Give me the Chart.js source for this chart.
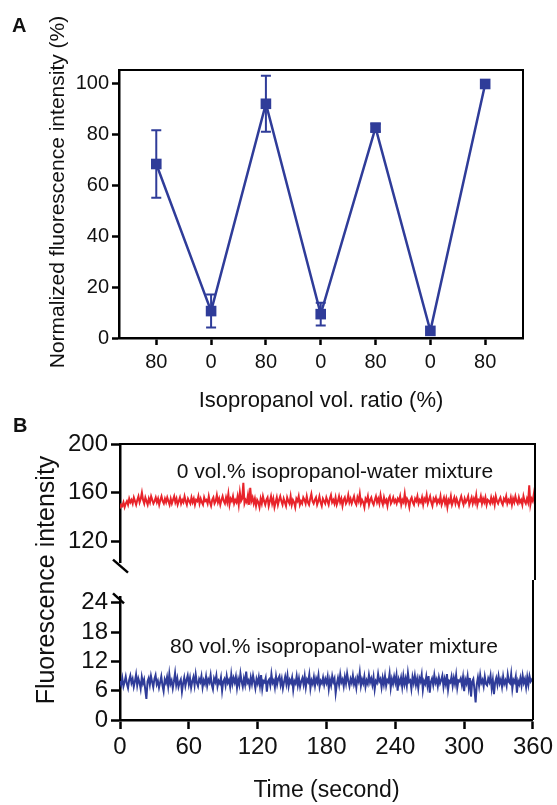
<!DOCTYPE html>
<html>
<head>
<meta charset="utf-8">
<script src="https://cdn.jsdelivr.net/npm/chart.js@4.4.1/dist/chart.umd.min.js"></script>
<style>
  body { margin: 0; background: #fff; }
  #wrap { position: relative; width: 557px; height: 805px; overflow: hidden; font-family: 'Liberation Sans', Arial, sans-serif; color: #111; }
  canvas { position: absolute; left: 0; }
  .panel { position: absolute; font-weight: bold; font-size: 20px; line-height: 20px; }
  .ytitle { position: absolute; white-space: nowrap; transform: translate(-50%, -50%) rotate(-90deg); }
</style>
</head>
<body>
<div id="wrap">
  <canvas id="chartA" width="557" height="425" style="top:0"></canvas>
  <canvas id="chartB1" width="557" height="155" style="top:425px"></canvas>
  <canvas id="chartB2" width="557" height="225" style="top:580px"></canvas>
  <div class="panel" style="left:12px;top:15px">A</div>
  <div class="panel" style="left:13px;top:415px">B</div>
  <div class="ytitle" style="left:57px;top:192px;font-size:21px">Normalized fluorescence intensity (%)</div>
  <div class="ytitle" style="left:45px;top:580px;font-size:25px">Fluorescence intensity</div>
</div>
<script>
// ─── Panel A data ───────────────────────────────────────────────
const ratioLabels   = ['80', '0', '80', '0', '80', '0', '80'];
const intensity     = [68.5, 10.6, 92.2, 9.4, 82.8, 2.8, 100];
const intensityErr  = [13.3, 6.5, 11.0, 4.5, 1.5, 0, 0];
const ticksA        = [0, 20, 40, 60, 80, 100];

// ─── Panel B data (one reading per second, 0–360 s) ─────────────
const sampleStep = 1;
const timeTicks  = [0, 60, 120, 180, 240, 300, 360];
const ticksUpper = [120, 160, 200];
const ticksLower = [0, 6, 12, 18, 24];

// 0 vol.% isopropanol (20 readings per row)
const red = [
  147,150,149,152,148,151,153,150,155,152,154,151,156,153,150,154,157,152,155,160,
  154,151,156,153,150,155,152,157,154,151,153,156,152,155,150,154,157,153,151,155,
  152,156,153,150,155,151,154,157,152,155,150,153,156,151,154,152,157,153,150,155,
  153,151,156,152,155,150,154,153,157,151,155,152,150,156,153,154,151,157,152,149,
  154,156,151,153,158,152,155,150,154,157,153,151,156,152,159,150,155,153,157,151,
  154,152,157,150,160,153,155,168,151,154,152,158,150,164,153,156,151,155,149,154,
  152,148,155,151,157,153,150,154,156,149,153,157,151,155,148,152,156,150,154,157,
  153,150,155,152,149,156,153,151,157,150,154,152,148,155,153,157,150,153,151,156,
  154,151,157,152,150,155,159,153,151,154,156,150,153,157,152,149,155,153,151,156,
  153,150,155,158,152,154,151,156,150,153,157,152,155,149,154,156,151,153,158,152,
  155,151,154,157,152,150,156,153,159,151,154,152,148,155,153,157,150,154,156,152,
  150,154,157,152,155,151,158,153,150,156,152,154,149,155,157,151,153,156,152,154,
  151,155,153,157,150,154,152,159,151,155,153,148,154,156,152,150,155,153,157,151,
  154,152,156,150,155,153,158,151,154,157,152,149,155,153,156,151,154,152,157,150,
  153,156,151,155,148,154,152,157,150,153,156,151,155,152,149,154,157,153,150,155,
  152,154,157,150,153,156,151,155,152,158,150,154,153,157,151,155,152,156,150,154,
  153,151,156,152,155,150,157,153,151,154,156,152,150,155,153,157,151,154,152,156,
  150,155,152,157,153,151,156,152,154,150,157,153,151,155,152,166,150,155,153,159,
  152
];

// 80 vol.% isopropanol (20 readings per row)
const blue = [
  8.0,7.2,8.6,6.9,7.8,8.9,7.4,6.5,8.2,9.1,7.6,8.4,6.8,7.9,9.3,7.1,8.5,7.7,6.4,8.8,
  7.5,8.3,6.2,4.3,7.9,8.6,7.2,9.0,7.8,6.7,8.4,9.2,7.3,8.0,6.6,7.7,8.9,7.1,5.9,8.3,
  7.6,8.8,6.9,9.4,7.4,8.1,6.5,7.9,9.6,7.2,8.5,6.8,7.7,8.3,5.8,7.5,8.7,7.0,8.2,9.1,
  7.3,8.6,6.6,7.9,8.8,7.1,9.3,7.6,6.9,8.4,7.8,9.0,6.7,8.1,7.4,8.9,7.0,8.3,7.7,9.2,
  7.2,6.3,8.5,7.8,9.1,6.9,8.0,7.5,8.7,6.0,7.9,8.4,7.1,9.0,7.6,8.2,6.8,9.3,7.4,8.6,
  7.7,8.9,6.6,8.3,7.2,9.5,7.9,6.8,8.5,7.3,9.9,7.6,8.1,6.9,8.7,7.4,9.1,7.8,6.5,8.4,
  7.5,8.8,7.0,9.2,6.4,8.0,7.7,8.6,5.8,7.9,8.3,7.1,9.4,7.6,8.1,6.7,8.9,7.3,8.5,9.0,
  7.2,8.4,6.5,7.8,8.9,7.4,9.1,6.9,8.2,7.6,8.7,6.2,8.0,7.5,9.0,7.1,8.5,6.8,7.9,8.6,
  7.3,9.0,6.7,8.3,7.8,9.3,6.5,8.1,7.4,8.8,7.0,8.5,7.7,9.2,6.8,8.0,7.5,8.7,7.2,8.4,
  7.6,8.9,6.4,8.2,7.1,9.0,7.8,8.5,5.5,7.4,8.6,7.2,9.3,7.7,8.3,6.9,8.8,7.5,9.5,8.0,
  6.9,8.4,7.6,9.1,7.3,8.2,6.6,8.7,7.9,9.7,7.0,8.3,7.5,8.9,6.8,8.1,7.4,9.2,7.7,8.5,
  7.2,8.8,6.3,8.0,7.6,9.4,7.9,8.4,6.7,8.6,7.3,9.0,7.0,8.2,7.8,9.5,6.6,8.4,7.4,8.9,
  7.7,9.2,6.0,8.3,7.5,8.7,6.8,9.0,7.3,8.5,7.0,9.6,7.8,8.1,6.4,8.8,7.6,9.1,7.2,8.4,
  6.5,8.6,7.9,9.3,6.2,8.0,7.4,8.9,7.1,9.0,5.6,7.8,8.5,7.2,9.2,7.6,8.3,6.9,8.7,7.5,
  8.2,9.1,6.8,8.4,7.3,9.4,6.3,8.0,7.7,8.9,7.0,8.6,7.4,9.2,6.6,8.1,7.9,8.5,7.2,8.8,
  5.9,8.3,7.5,9.0,6.7,8.6,4.8,7.9,8.4,6.2,3.6,7.3,8.7,7.0,9.2,7.6,8.2,6.9,8.9,7.4,
  7.1,8.5,7.8,9.1,6.5,8.2,5.3,7.7,8.6,7.2,9.0,7.5,8.3,6.8,8.9,7.4,8.1,7.0,9.3,7.8,
  7.5,9.4,6.4,8.2,7.7,8.9,5.6,8.0,7.3,8.6,7.1,9.1,7.6,8.4,6.7,8.8,7.2,9.0,7.9,8.3,
  7.9
];

const notes = [
  { text: '0 vol.% isopropanol-water mixture',  t: 186.5, v: 172 },
  { text: '80 vol.% isopropanol-water mixture', t: 186.5, v: 13.7 }
];

const BLUE = '#2f3c99';
const RED  = '#e8232a';
const FONT = "'Liberation Sans', Arial, sans-serif";

Chart.defaults.font.family = FONT;
Chart.defaults.color = '#111';

const toXY = (arr) => arr.map((v, i) => ({ x: i * sampleStep, y: v }));

// ─── Helpers ─────────────────────────────────────────────────────
function axisStyle(tickLen, fontSize) {
  return {
    grid: { display: true, drawOnChartArea: false, drawTicks: true, tickLength: tickLen, tickWidth: 2.5, color: '#000', tickColor: '#000' },
    border: { display: true, color: '#000', width: 2.5 },
    ticks: { color: '#111', font: { size: fontSize }, padding: 3, autoSkip: false, maxRotation: 0 }
  };
}

// ─── Panel A ─────────────────────────────────────────────────────
const boxPlugin = {
  id: 'boxA',
  afterDraw(chart) {
    const { ctx, chartArea: a } = chart;
    ctx.save();
    ctx.strokeStyle = '#000';
    ctx.lineWidth = 2;
    ctx.beginPath();
    ctx.moveTo(a.left, a.top);
    ctx.lineTo(a.right, a.top);
    ctx.lineTo(a.right, a.bottom);
    ctx.stroke();
    ctx.restore();
  }
};

const errPlugin = {
  id: 'errBars',
  beforeDatasetsDraw(chart) {
    const { ctx, scales: { x, y } } = chart;
    ctx.save();
    ctx.strokeStyle = BLUE;
    ctx.lineWidth = 2;
    intensity.forEach((v, i) => {
      const e = intensityErr[i];
      if (!e) return;
      const px = x.getPixelForValue(i);
      const hi = y.getPixelForValue(v + e);
      const lo = y.getPixelForValue(v - e);
      ctx.beginPath();
      ctx.moveTo(px, hi); ctx.lineTo(px, lo);
      ctx.moveTo(px - 5, hi); ctx.lineTo(px + 5, hi);
      ctx.moveTo(px - 5, lo); ctx.lineTo(px + 5, lo);
      ctx.stroke();
    });
    ctx.restore();
  }
};

const xA = axisStyle(7, 20);
const yA = axisStyle(7, 20);

new Chart(document.getElementById('chartA'), {
  type: 'line',
  data: {
    datasets: [{
      data: intensity.map((v, i) => ({ x: i, y: v })),
      borderColor: BLUE,
      backgroundColor: BLUE,
      borderWidth: 2.5,
      pointStyle: 'rect',
      pointRadius: 7.5,
      pointBorderWidth: 0,
      tension: 0
    }]
  },
  options: {
    responsive: false,
    animation: false,
    layout: { padding: { left: 0, right: 34, top: 70, bottom: 0 } },
    plugins: { legend: { display: false }, tooltip: { enabled: false } },
    scales: {
      x: {
        type: 'linear', min: -0.68, max: 6.69,
        grid: xA.grid, border: xA.border,
        ticks: { ...xA.ticks, padding: 5, callback: (v) => ratioLabels[v] },
        afterBuildTicks: (s) => { s.ticks = ratioLabels.map((_, i) => ({ value: i })); },
        afterFit: (s) => { s.height = 87; },
        title: { display: true, text: 'Isopropanol vol. ratio (%)', font: { size: 22 }, color: '#111', padding: { top: 0, bottom: 11 } }
      },
      y: {
        min: 0, max: 105.5,
        grid: yA.grid, border: yA.border, ticks: yA.ticks,
        afterBuildTicks: (s) => { s.ticks = ticksA.map(v => ({ value: v })); },
        afterFit: (s) => { s.width = 119; }
      }
    }
  },
  plugins: [errPlugin, boxPlugin]
});

// ─── Panel B (broken y axis: two stacked charts) ─────────────────
function notePlugin(note) {
  return {
    id: 'note',
    afterDatasetsDraw(chart) {
      const { ctx, scales: { x, y } } = chart;
      ctx.save();
      ctx.font = '21px ' + FONT;
      ctx.fillStyle = '#111';
      ctx.textAlign = 'center';
      ctx.textBaseline = 'alphabetic';
      ctx.fillText(note.text, x.getPixelForValue(note.t), y.getPixelForValue(note.v));
      ctx.restore();
    }
  };
}

function frameB(isUpper) {
  return {
    id: 'frameB',
    afterDraw(chart) {
      const { ctx, chartArea: a, height } = chart;
      ctx.save();
      ctx.strokeStyle = '#000';
      ctx.lineWidth = 2;
      ctx.beginPath();
      if (isUpper) {
        ctx.moveTo(a.left, a.top);
        ctx.lineTo(a.right, a.top);
        ctx.lineTo(a.right, height);
      } else {
        ctx.moveTo(a.right, 0);
        ctx.lineTo(a.right, a.bottom);
      }
      ctx.stroke();
      // break marks on the left axis
      ctx.lineWidth = 2.5;
      ctx.beginPath();
      if (isUpper) {
        ctx.moveTo(a.left - 7, a.bottom - 3);
        ctx.lineTo(a.left + 8, a.bottom + 10);
      } else {
        ctx.moveTo(a.left - 7, a.top - 4);
        ctx.lineTo(a.left + 4, a.top + 6);
      }
      ctx.stroke();
      ctx.restore();
    }
  };
}

const xB = axisStyle(9, 24);
const yB = axisStyle(9, 24);

new Chart(document.getElementById('chartB1'), {
  type: 'line',
  data: {
    datasets: [{
      data: toXY(red),
      borderColor: RED,
      borderWidth: 2,
      pointRadius: 0,
      tension: 0
    }]
  },
  options: {
    responsive: false,
    animation: false,
    layout: { padding: { left: 0, right: 22, top: 19, bottom: 13 } },
    plugins: { legend: { display: false }, tooltip: { enabled: false } },
    scales: {
      x: { type: 'linear', min: 0, max: 360, display: false },
      y: {
        min: 102.4, max: 200,
        grid: yB.grid, border: yB.border, ticks: yB.ticks,
        afterBuildTicks: (s) => { s.ticks = ticksUpper.map(v => ({ value: v })); },
        afterFit: (s) => { s.width = 120; }
      }
    }
  },
  plugins: [notePlugin(notes[0]), frameB(true)]
});

new Chart(document.getElementById('chartB2'), {
  type: 'line',
  data: {
    datasets: [{
      data: toXY(blue),
      borderColor: BLUE,
      borderWidth: 2,
      pointRadius: 0,
      tension: 0
    }]
  },
  options: {
    responsive: false,
    animation: false,
    layout: { padding: { left: 0, right: 22, top: 8, bottom: 0 } },
    plugins: { legend: { display: false }, tooltip: { enabled: false } },
    scales: {
      x: {
        type: 'linear', min: 0, max: 360,
        grid: xB.grid, border: xB.border,
        ticks: { ...xB.ticks, padding: 4 },
        afterBuildTicks: (s) => { s.ticks = timeTicks.map(v => ({ value: v })); },
        afterFit: (s) => { s.height = 85; },
        title: { display: true, text: 'Time (second)', font: { size: 23 }, color: '#111', padding: { top: 0, bottom: 1 } }
      },
      y: {
        min: 0, max: 25.1,
        grid: yB.grid, border: yB.border, ticks: yB.ticks,
        afterBuildTicks: (s) => { s.ticks = ticksLower.map(v => ({ value: v })); },
        afterFit: (s) => { s.width = 120; }
      }
    }
  },
  plugins: [notePlugin(notes[1]), frameB(false)]
});
</script>
</body>
</html>
